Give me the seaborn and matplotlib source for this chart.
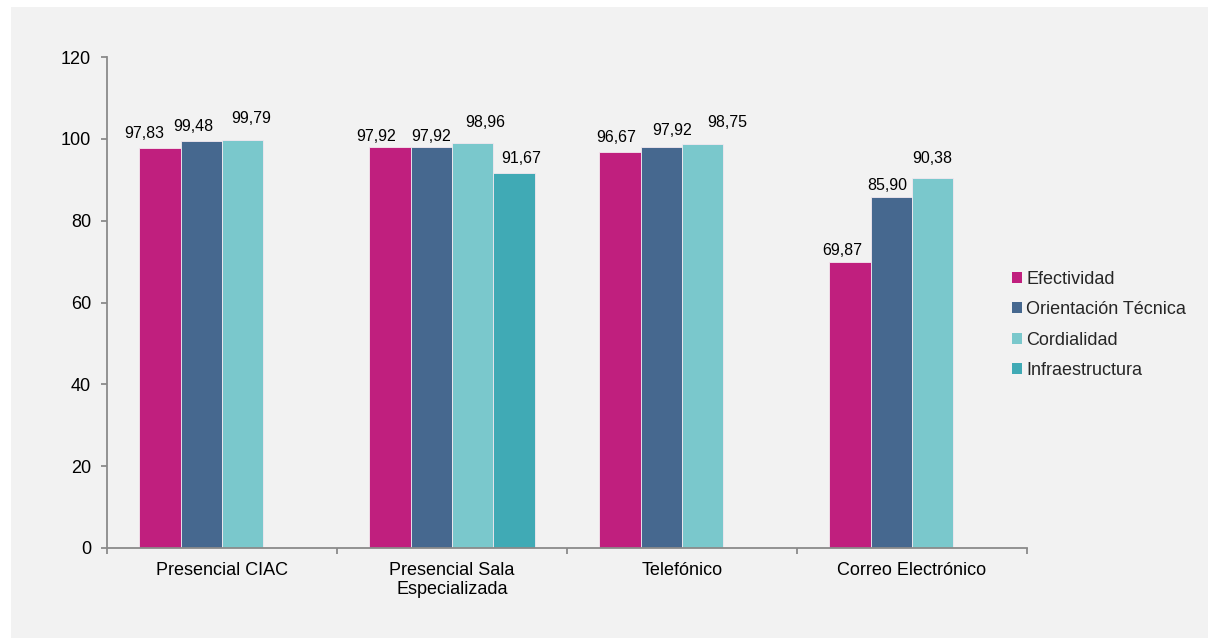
import matplotlib
matplotlib.use("Agg")
import matplotlib.pyplot as plt
from matplotlib.patches import Rectangle
from matplotlib.ticker import FixedLocator
import pandas as pd
import seaborn as sns

# Canales de atención y criterios evaluados
canales = ["Presencial CIAC", "Presencial Sala\nEspecializada", "Telefónico", "Correo Electrónico"]
criterios = ["Efectividad", "Orientación Técnica", "Cordialidad", "Infraestructura"]

efectividad = [97.83, 97.92, 96.67, 69.87]
orientacion = [99.48, 97.92, 97.92, 85.90]
cordialidad = [99.79, 98.96, 98.75, 90.38]
infraestructura = [None, 91.67, None, None]

colores = ["#C01F7E", "#46688F", "#7AC8CC", "#40AAB5"]
y_ticks = [0, 20, 40, 60, 80, 100, 120]

# Desplazamiento (px) de cada etiqueta de valor respecto al centro/tope de su barra,
# para que no se solapen entre barras vecinas
desplaz_x = [[-16, -14, -4, -8],
             [-8, 0, 11, -4],
             [8, 13, 25, 0],
             [0, 7, 0, 0]]
desplaz_y = [[10, 6.7, 10, 7],
             [10, 6.7, 12, 7],
             [16.5, 16, 17, 15],
             [10, 10, 10, 10]]

series = [efectividad, orientacion, cordialidad, infraestructura]
rows = []
for crit, vals in zip(criterios, series):
    for canal, v in zip(canales, vals):
        if v is not None:
            rows.append({"canal": canal, "criterio": crit, "valor": v})
df = pd.DataFrame(rows)

sns.set_theme(style="white")
plt.rcParams["font.family"] = ["Liberation Sans", "DejaVu Sans"]

W, H = 1208, 638
fig = plt.figure(figsize=(W / 100, H / 100), dpi=100, facecolor="white")
fig.patches.append(Rectangle((11 / W, 0), 1, 1 - 7 / H, transform=fig.transFigure,
                             facecolor="#F2F2F2", edgecolor="none", zorder=-10))

ax = fig.add_axes([107 / W, 1 - 548 / H, (1027 - 107) / W, (548 - 57) / H])
ax.set_facecolor("#F2F2F2")

sns.barplot(data=df, x="canal", y="valor", hue="criterio", order=canales,
            hue_order=criterios, palette=colores, saturation=1, width=0.72,
            edgecolor="#f4e9f0", linewidth=0.6, ax=ax)

px2pt = 72 / 100
for s, cont in enumerate(ax.containers):
    for bar in cont:
        h = bar.get_height()
        cx = bar.get_x() + bar.get_width() / 2
        c = int(round(cx))
        ax.annotate(f"{h:.2f}".replace(".", ","), xy=(cx, h),
                    xytext=(desplaz_x[s][c] * px2pt, desplaz_y[s][c] * px2pt),
                    textcoords="offset points", ha="center", va="baseline",
                    fontsize=11.5, color="black")

ax.set_ylim(0, 120)
ax.set_xlim(-0.5, 3.5)
ax.set_yticks(y_ticks)
ax.set_yticklabels([str(t) for t in y_ticks])
ax.set_xlabel("")
ax.set_ylabel("")

for side in ["top", "right"]:
    ax.spines[side].set_visible(False)
for side in ["left", "bottom"]:
    ax.spines[side].set_color("#8A8A8A")
    ax.spines[side].set_linewidth(1.3)

ax.tick_params(axis="y", which="major", length=4.5, width=1.3, color="#8A8A8A",
               direction="out", left=True, labelsize=13, pad=7, labelcolor="black")
ax.tick_params(axis="x", which="major", length=0, labelsize=13, pad=10, labelcolor="black")
ax.xaxis.set_minor_locator(FixedLocator([-0.5, 0.5, 1.5, 2.5, 3.5]))
ax.tick_params(axis="x", which="minor", length=4.5, width=1.3, color="#8A8A8A",
               direction="out", bottom=True)
for lbl in ax.get_xticklabels():
    lbl.set_horizontalalignment("center")
    lbl.set_multialignment("center")

sns.move_legend(ax, loc="center left", bbox_to_anchor=(1012 / W, 1 - 325 / H),
                bbox_transform=fig.transFigure, frameon=False, title=None,
                fontsize=13, handlelength=0.55, handleheight=0.55,
                handletextpad=0.25, labelspacing=0.74, borderpad=0, borderaxespad=0)
for h in ax.get_legend().legend_handles:
    h.set_linewidth(0)

fig.savefig("out.png", dpi=100, facecolor="white")
